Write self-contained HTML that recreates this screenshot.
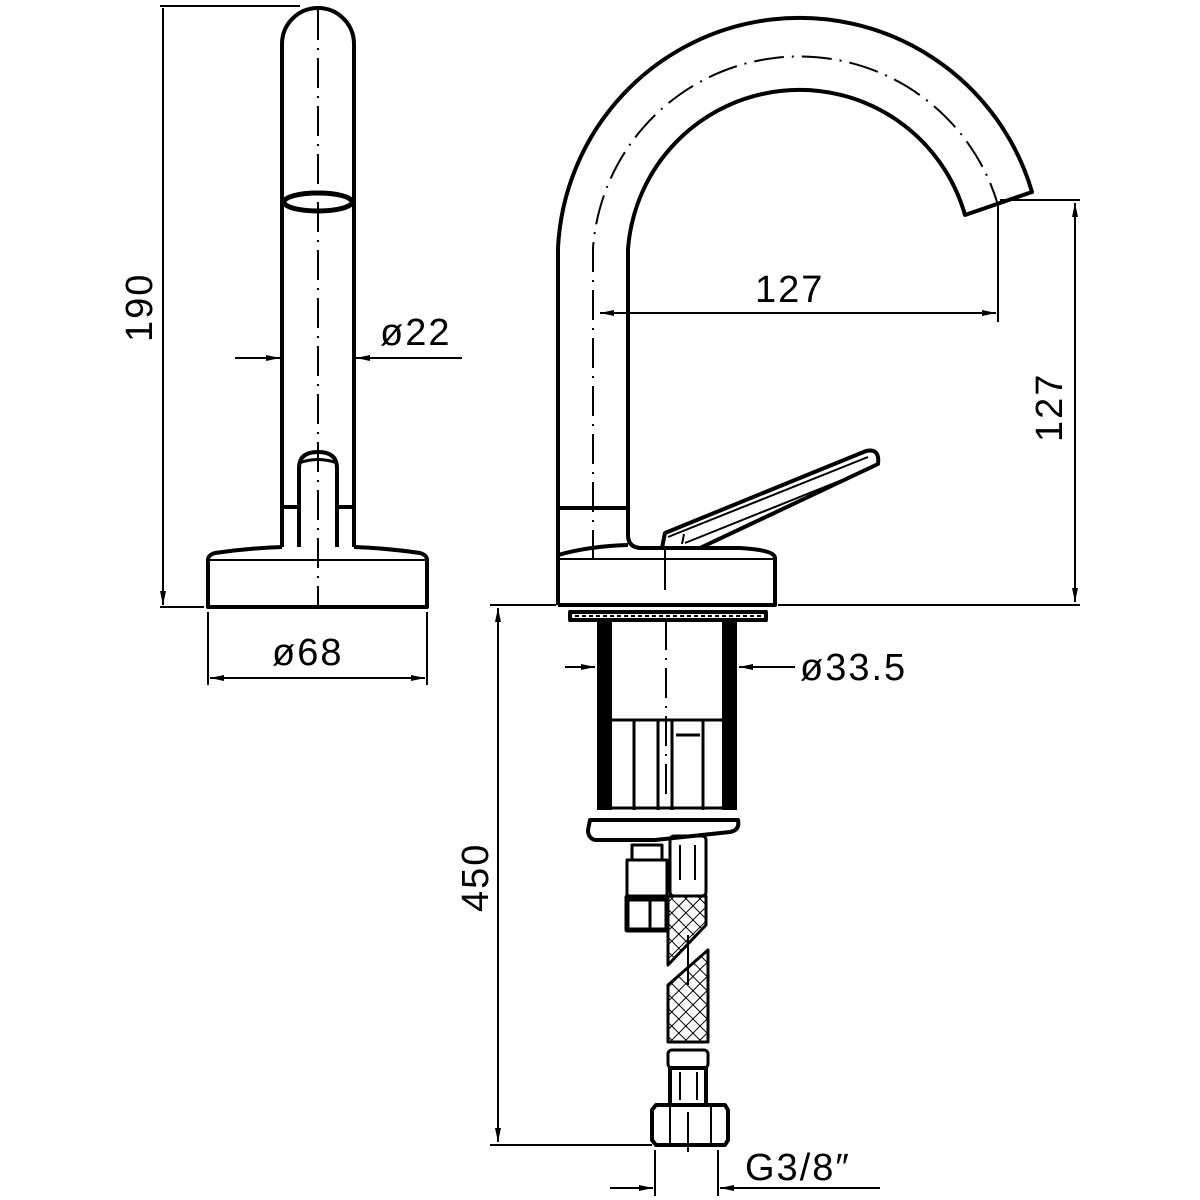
<!DOCTYPE html>
<html><head><meta charset="utf-8"><style>
html,body{margin:0;padding:0;background:#fff}
svg{display:block}
text{font-family:"Liberation Sans",sans-serif;font-size:38px;fill:#000;letter-spacing:2px}
</style></head><body>
<svg width="1200" height="1200" viewBox="0 0 1200 1200" xmlns="http://www.w3.org/2000/svg">
<defs>
<marker id="a" markerWidth="14" markerHeight="8" refX="14" refY="4" orient="auto" markerUnits="userSpaceOnUse"><path d="M0,1 L14,4 L0,7 Z" fill="#000"/></marker>
<pattern id="h" width="10" height="10" patternUnits="userSpaceOnUse" patternTransform="rotate(45)"><path d="M0,0 V10 M0,0 H10" stroke="#000" stroke-width="2"/></pattern>
</defs>
<g fill="none" stroke="#000" stroke-width="4" stroke-linejoin="round">
<!-- LEFT VIEW -->
<path d="M282,547 V44 A36,36 0 0 1 354,44 V547"/>
<ellipse cx="318" cy="202" rx="34" ry="9" stroke-width="5"/>
<path d="M299,547 V468 Q299,452 318,452 Q337,452 337,468 V547"/>
<path d="M299,463 Q318,456 337,463" stroke-width="3"/>
<path d="M282,507 H299 M337,507 H354"/>
<path d="M282,547 Q250,548 215,553 Q208,555 208,560 V607 H427 V560 Q427,555 420,553 Q385,548 354,547"/>
<line x1="210" y1="560" x2="425" y2="560" stroke-width="2"/>
<line x1="318" y1="10" x2="318" y2="607" stroke-width="2" stroke-dasharray="30,8,2,8"/>
<g stroke-width="2">
<line x1="160" y1="6" x2="300" y2="6"/>
<line x1="160" y1="607" x2="204" y2="607"/>
<line x1="163" y1="8" x2="163" y2="605" marker-end="url(#a)"/>
<line x1="235" y1="358" x2="280" y2="358" marker-end="url(#a)"/>
<line x1="462" y1="358" x2="356" y2="358" marker-end="url(#a)"/>
<line x1="208" y1="612" x2="208" y2="685"/>
<line x1="427" y1="612" x2="427" y2="685"/>
<line x1="318" y1="678" x2="210" y2="678" marker-end="url(#a)"/>
<line x1="318" y1="678" x2="425" y2="678" marker-end="url(#a)"/>
</g>
<!-- RIGHT VIEW spout -->
<path d="M558,605 V248 A242,242 0 0 1 1032,192 L965,215 A172,172 0 0 0 628,249 V535 Q628,548 642,548"/>
<path d="M593,560 V248 A207,207 0 0 1 998,205" stroke-width="2" stroke-dasharray="30,8,2,8"/>
<path d="M558,508 H628"/>
<path d="M558,555 Q590,546 628,545"/>
<path d="M642,548 H740 Q775,550 775,558 V605 H558"/>
<line x1="560" y1="559" x2="773" y2="559" stroke-width="2"/>
<path d="M662,548 L665,533 L866,451 Q880,448 878,464 L700,548"/>
<path d="M668,537 L868,457 M685,543 L872,468" stroke-width="2"/>
<path d="M684,534 L682,544" stroke-width="2"/>
<line x1="665" y1="550" x2="665" y2="590" stroke-width="2"/>
<!-- under body -->
<rect x="570" y="612" width="196" height="8"/>
<line x1="575" y1="616" x2="762" y2="616" stroke-width="2" stroke-dasharray="4,3"/>
<rect x="597" y="620" width="15" height="190" fill="#000" stroke="none"/>
<rect x="722" y="620" width="15" height="190" fill="#000" stroke="none"/>
<line x1="612" y1="720" x2="722" y2="720" stroke-width="3"/>
<path d="M634,720 V810 M658,720 V810 M672,720 V810 M703,720 V810 M676,735 H700" stroke-width="3"/>
<line x1="612" y1="808" x2="722" y2="808" stroke-width="3"/>
<line x1="666" y1="620" x2="666" y2="800" stroke-width="2" stroke-dasharray="30,8,2,8"/>
<path d="M590,820 H738 Q740,830 730,832 L655,840 H595 Q588,838 588,830 Z"/>
<rect x="632" y="845" width="30" height="15" stroke-width="3"/>
<rect x="627" y="860" width="40" height="40" stroke-width="3"/>
<rect x="627" y="897" width="40" height="33" stroke-width="5"/>
<path d="M650,900 V928" stroke-width="3"/>
<rect x="670" y="836" width="36" height="60" rx="4" stroke-width="3"/>
<path d="M680,845 V880 M695,845 V880" stroke-width="2"/>
<path d="M670,896 H706 V925 L668,965 V896 Z" fill="url(#h)" stroke-width="3"/>
<path d="M668,985 L708,950 V1042 H668 Z" fill="url(#h)" stroke-width="3"/>
<rect x="668" y="1050" width="40" height="18" rx="4" stroke-width="3"/>
<rect x="670" y="1068" width="36" height="37" stroke-width="4"/>
<path d="M680,1072 V1100 M697,1072 V1100" stroke-width="2"/>
<path d="M656,1105 H725 L728,1110 V1140 L725,1145 H656 L652,1140 V1110 Z"/>
<path d="M670,1107 V1143 M711,1107 V1143 M688,1112 V1152" stroke-width="2"/>
<line x1="688" y1="935" x2="688" y2="985" stroke-width="2"/>
<g stroke-width="2">
<line x1="778" y1="605" x2="1080" y2="605"/>
<line x1="1000" y1="200" x2="1080" y2="200"/>
<line x1="1075" y1="400" x2="1075" y2="203" marker-end="url(#a)"/>
<line x1="1075" y1="400" x2="1075" y2="602" marker-end="url(#a)"/>
<line x1="998" y1="205" x2="998" y2="322"/>
<line x1="800" y1="313" x2="600" y2="313" marker-end="url(#a)"/>
<line x1="800" y1="313" x2="996" y2="313" marker-end="url(#a)"/>
<line x1="565" y1="667" x2="595" y2="667" marker-end="url(#a)"/>
<line x1="795" y1="667" x2="739" y2="667" marker-end="url(#a)"/>
<line x1="490" y1="605" x2="556" y2="605"/>
<line x1="490" y1="1145" x2="652" y2="1145"/>
<line x1="498" y1="875" x2="498" y2="608" marker-end="url(#a)"/>
<line x1="498" y1="875" x2="498" y2="1142" marker-end="url(#a)"/>
<line x1="655" y1="1150" x2="655" y2="1196"/>
<line x1="718" y1="1150" x2="718" y2="1196"/>
<line x1="610" y1="1188" x2="653" y2="1188" marker-end="url(#a)"/>
<line x1="880" y1="1188" x2="720" y2="1188" marker-end="url(#a)"/>
</g>
</g>
<text x="380" y="345">ø22</text>
<text x="272" y="665">ø68</text>
<text x="152" y="342" transform="rotate(-90 152 342)">190</text>
<text x="755" y="302">127</text>
<text x="1062" y="442" transform="rotate(-90 1062 442)">127</text>
<text x="800" y="680">ø33.5</text>
<text x="488" y="912" transform="rotate(-90 488 912)">450</text>
<text x="745" y="1180">G3/8″</text>
</svg>
</body></html>
